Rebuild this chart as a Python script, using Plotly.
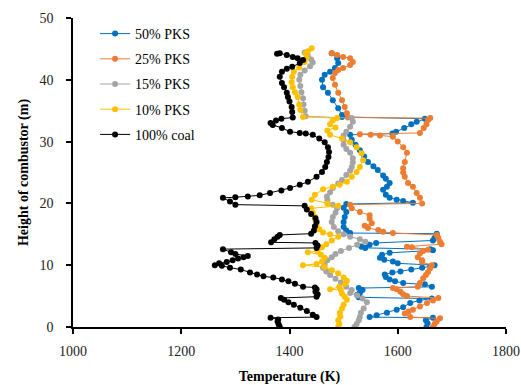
import plotly.graph_objects as go

# ---------------- data (Temperature K, Height m) ----------------
h_50 = [
    0.0, 0.6, 1.1, 1.5, 1.6, 1.9, 2.3, 2.8, 3.2, 3.9,
    4.3, 4.6, 4.8, 5.2, 5.5, 6.0, 6.3, 6.5, 6.9, 7.1,
    7.4, 7.7, 8.1, 8.5, 8.8, 9.0, 9.3, 9.6, 9.8, 10.0,
    10.3, 10.6, 10.9, 11.2, 11.7, 12.0, 12.4, 12.6, 12.8, 13.0,
    13.3, 13.6, 14.0, 14.4, 14.8, 15.1, 15.2, 15.6, 16.2, 17.0,
    17.8, 18.6, 19.3, 19.9, 20.1, 20.4, 20.6, 20.9, 21.4, 22.2,
    22.7, 23.3, 24.0, 24.5, 25.4, 26.0, 26.7, 27.6, 28.6, 29.5,
    30.3, 31.1, 31.3, 31.6, 32.2, 32.8, 33.2, 33.7, 34.0, 34.3,
    35.4, 36.7, 37.9, 38.8, 40.0, 40.8, 41.3, 41.9, 42.7, 43.5,
    44.3]
t_50 = [
    1653, 1655, 1652, 1665, 1548, 1561, 1580, 1598, 1610, 1623,
    1640, 1663, 1528, 1525, 1530, 1535, 1528, 1663, 1650, 1610,
    1595, 1585, 1578, 1576, 1590, 1605, 1625, 1645, 1660, 1668,
    1600, 1591, 1575, 1567, 1571, 1585, 1665, 1660, 1540, 1533,
    1548, 1560, 1665, 1668, 1672, 1672, 1512, 1505, 1500, 1500,
    1502, 1505, 1500, 1505, 1628, 1610, 1598, 1585, 1578, 1573,
    1580, 1585, 1578, 1573, 1563, 1555, 1545, 1538, 1530, 1522,
    1515, 1512, 1590, 1597, 1612, 1625, 1635, 1650, 1497, 1497,
    1490, 1480, 1471, 1462, 1460, 1465, 1475, 1484, 1490, 1488,
    1478]

h_25 = [
    0.0, 0.5, 0.9, 1.4, 1.6, 2.2, 2.5, 2.8, 3.3, 3.9,
    4.3, 4.7, 5.0, 5.3, 5.7, 6.1, 6.3, 6.5, 7.1, 7.9,
    8.4, 8.9, 9.5, 10.0, 10.5, 10.8, 11.3, 11.9, 12.3, 12.5,
    12.9, 13.0, 13.4, 13.8, 14.4, 14.9, 15.2, 15.4, 15.7, 16.0,
    16.4, 16.8, 17.5, 18.1, 18.6, 19.2, 19.8, 20.0, 20.9, 21.7,
    22.7, 23.3, 24.3, 25.0, 25.7, 26.7, 28.2, 29.1, 30.0, 30.8,
    31.0, 31.1, 31.2, 31.4, 32.2, 32.8, 33.5, 33.8, 33.9, 34.6,
    35.6, 36.7, 37.9, 39.2, 40.3, 41.1, 41.6, 41.9, 42.4, 42.9,
    43.5, 43.7, 44.0, 44.3]
t_25 = [
    1665, 1668, 1672, 1678, 1623, 1613, 1620, 1628, 1641, 1654,
    1665, 1675, 1617, 1610, 1605, 1598, 1591, 1637, 1641, 1647,
    1652, 1656, 1660, 1663, 1645, 1645, 1637, 1641, 1647, 1656,
    1626, 1617, 1681, 1678, 1675, 1672, 1591, 1573, 1564, 1545,
    1539, 1552, 1548, 1548, 1530, 1515, 1512, 1645, 1641, 1635,
    1628, 1619, 1613, 1610, 1610, 1613, 1617, 1610, 1600, 1591,
    1567, 1550, 1530, 1641, 1648, 1653, 1656, 1660, 1508, 1506,
    1502, 1497, 1490, 1484, 1480, 1484, 1490, 1499, 1512, 1517,
    1512, 1499, 1488, 1478]

h_15 = [
    0.0, 0.5, 1.1, 1.6, 2.3, 3.0, 4.0, 4.6, 5.1, 5.5,
    6.0, 6.5, 7.2, 7.8, 8.4, 9.0, 9.6, 10.2, 10.8, 11.3,
    11.8, 12.3, 12.8, 13.3, 13.8, 14.2, 14.6, 15.0, 15.5, 16.2,
    17.0, 17.8, 18.5, 19.2, 19.8, 20.5, 21.1, 21.8, 22.5, 23.2,
    23.8, 24.6, 25.3, 25.9, 26.6, 27.3, 28.2, 28.8, 29.5, 30.2,
    31.0, 31.6, 32.4, 33.2, 33.8, 34.1, 35.0, 36.0, 37.0, 38.0,
    39.0, 40.0, 40.8, 41.5, 42.2, 42.8, 43.3, 43.8, 44.4]
t_15 = [
    1520, 1524, 1528, 1530, 1532, 1537, 1543, 1535, 1525, 1512,
    1515, 1505, 1495, 1485, 1475, 1468, 1462, 1465, 1470, 1478,
    1485, 1495, 1510, 1525, 1540, 1530, 1512, 1500, 1490, 1482,
    1478, 1480, 1485, 1488, 1480, 1470, 1469, 1475, 1480, 1490,
    1497, 1505, 1512, 1515, 1517, 1517, 1512, 1505, 1500, 1500,
    1500, 1505, 1512, 1517, 1515, 1430, 1428, 1426, 1425, 1422,
    1420, 1418, 1420, 1428, 1438, 1443, 1440, 1434, 1428]

h_10 = [
    0.0, 0.5, 1.1, 1.7, 2.3, 3.0, 3.6, 4.4, 4.9, 5.4,
    6.0, 6.1, 6.5, 7.0, 7.5, 8.0, 8.7, 9.2, 9.7, 10.0,
    10.2, 10.6, 11.2, 11.7, 12.1, 12.3, 12.9, 13.4, 14.0, 14.6,
    15.0, 15.3, 15.8, 16.5, 17.2, 17.8, 18.5, 19.2, 19.6, 20.0,
    20.6, 21.4, 22.3, 22.7, 23.0, 23.5, 24.3, 25.1, 25.9, 27.0,
    28.1, 29.1, 29.9, 30.5, 31.1, 31.8, 32.3, 32.8, 33.4, 33.8,
    34.0, 35.1, 36.0, 37.2, 38.0, 38.8, 39.6, 40.5, 41.3, 42.0,
    42.9, 43.7, 44.2, 44.6, 45.1]
t_10 = [
    1490, 1492, 1490, 1494, 1493, 1497, 1500, 1506, 1502, 1497,
    1495, 1475, 1492, 1503, 1506, 1500, 1490, 1478, 1465, 1425,
    1450, 1460, 1465, 1458, 1434, 1452, 1460, 1468, 1478, 1490,
    1475, 1462, 1455, 1450, 1448, 1447, 1443, 1440, 1490, 1470,
    1441, 1447, 1462, 1480, 1493, 1506, 1515, 1524, 1530, 1536,
    1533, 1524, 1512, 1497, 1475, 1470, 1485, 1475, 1480, 1488,
    1425, 1420, 1418, 1415, 1410, 1406, 1404, 1405, 1408, 1418,
    1428, 1432, 1430, 1434, 1441]

h_coal = [
    0.0, 0.4, 0.9, 1.2, 1.5, 1.6, 2.0, 2.6, 3.1, 3.6,
    4.0, 4.4, 4.7, 4.9, 5.3, 5.7, 6.1, 6.4, 6.5, 7.0,
    7.4, 7.7, 8.0, 8.2, 8.5, 8.8, 9.3, 9.6, 9.9, 10.0,
    10.3, 10.5, 10.8, 11.1, 11.3, 11.5, 11.8, 12.1, 12.6, 12.8,
    13.2, 13.6, 13.7, 14.2, 14.6, 14.9, 15.1, 15.6, 16.3, 17.0,
    17.6, 18.3, 19.0, 19.6, 19.8, 20.3, 20.9, 21.0, 21.1, 21.3,
    21.7, 22.1, 22.5, 23.0, 23.5, 24.3, 25.1, 25.9, 26.7, 27.5,
    28.3, 29.1, 29.9, 30.5, 31.1, 31.3, 31.4, 31.6, 32.2, 32.7,
    33.0, 33.4, 33.7, 33.9, 34.8, 35.6, 36.5, 37.2, 37.9, 38.8,
    39.5, 40.5, 41.3, 41.8, 42.1, 42.7, 43.2, 43.5, 43.7, 44.0,
    44.3, 44.2]
t_coal = [
    1382, 1380, 1378, 1379, 1365, 1450, 1443, 1432, 1420, 1408,
    1398, 1390, 1384, 1450, 1452, 1448, 1450, 1447, 1425, 1410,
    1398, 1386, 1370, 1352, 1340, 1327, 1310, 1290, 1275, 1262,
    1270, 1284, 1295, 1305, 1315, 1323, 1300, 1292, 1277, 1450,
    1452, 1448, 1366, 1372, 1378, 1382, 1440, 1445, 1447, 1450,
    1448, 1440, 1432, 1428, 1300, 1290, 1277, 1300, 1323, 1345,
    1364, 1385, 1401, 1419, 1434, 1450, 1460, 1466, 1469, 1472,
    1473, 1471, 1465, 1455, 1443, 1430, 1419, 1401, 1386, 1369,
    1365, 1375, 1385, 1406, 1405, 1404, 1400, 1397, 1395, 1390,
    1386, 1382, 1386, 1395, 1405, 1419, 1425, 1415, 1406, 1395,
    1382, 1377]

series_names = ["50% PKS", "25% PKS", "15% PKS", "10% PKS", "100% coal"]
series_t = [t_50, t_25, t_15, t_10, t_coal]
series_h = [h_50, h_25, h_15, h_10, h_coal]
series_colors = ["#0070C0", "#ED7D31", "#A5A5A5", "#FFC000", "#000000"]

x_ticks = [1000, 1200, 1400, 1600, 1800]
y_ticks = [0, 10, 20, 30, 40, 50]

FONT = "Liberation Serif"

fig = go.Figure()
for name, t, h, c in zip(series_names, series_t, series_h, series_colors):
    fig.add_trace(go.Scatter(
        x=t, y=h, mode="lines+markers", name=name, legendgroup=name,
        line=dict(color=c, width=1),
        marker=dict(color=c, size=6),
    ))

axis_common = dict(
    showline=True, linecolor="black", linewidth=1.5,
    ticks="outside", ticklen=5, tickcolor="black", tickwidth=1.5,
    showgrid=False, zeroline=False, automargin=False,
    tickfont=dict(family=FONT, size=14, color="#222222"),
)

fig.update_layout(
    width=521, height=385,
    margin=dict(l=73, r=15, t=18, b=58),
    paper_bgcolor="white", plot_bgcolor="white",
    font=dict(family=FONT, size=14, color="black"),
    xaxis=dict(range=[1000, 1800], tickvals=x_ticks, **axis_common,
               ticklabelstandoff=5,
               title=dict(text="<b>Temperature (K)</b>",
                          font=dict(family=FONT, size=14), standoff=14)),
    yaxis=dict(range=[0, 50], tickvals=y_ticks, **axis_common,
               ticklabelstandoff=10,
               title=dict(text="<b>Height of combustor (m)</b>",
                          font=dict(family=FONT, size=14), standoff=8)),
    legend=dict(x=0.051, y=1.0, xanchor="left", yanchor="top",
                bgcolor="rgba(0,0,0,0)", tracegroupgap=4,
                font=dict(family=FONT, size=14, color="black")),
    showlegend=True,
)

fig.write_html("out.html")
